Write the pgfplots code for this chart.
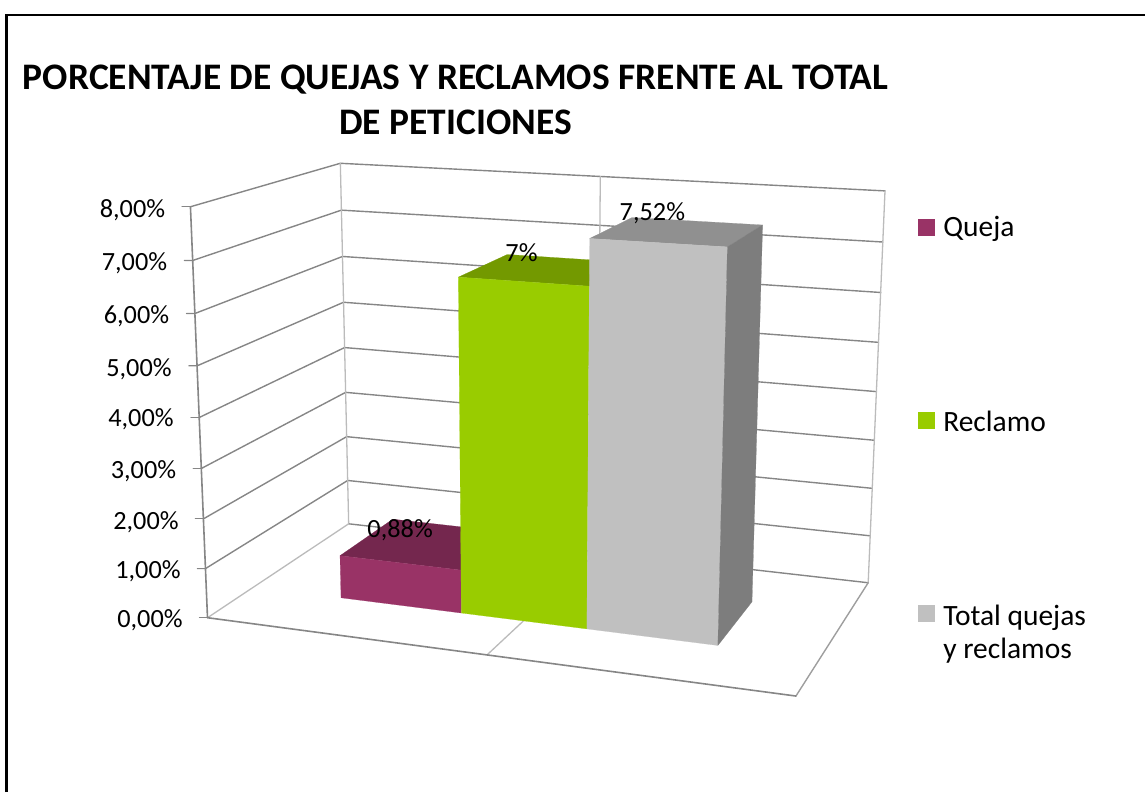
\documentclass[border=0pt]{standalone}
\usepackage{pgfplots}
\pgfplotsset{compat=1.18}
\usepackage{fontspec}
\setmainfont{Carlito}
% projection of the chart's box: u across, d into the depth, v = value in %
\newcommand\WW{(1-0.09516*\thisrow{u}+0.14592*\thisrow{d}-0.00625*\thisrow{v})}
\newcommand\PX{((207.7+513.19*\thisrow{u}+192.23*\thisrow{d}-3.325*\thisrow{v})/\WW)}
\newcommand\PY{((618.3+12.10*\thisrow{u}-17.49*\thisrow{d}-52.71*\thisrow{v})/\WW)}
\pgfkeys{/pgfplots/table/proj/.style={/pgfplots/table/x expr=\PX,/pgfplots/table/y expr=\PY,/pgfplots/table/row sep=\\}}
\definecolor{gridD}{HTML}{868686}
\definecolor{gridL}{HTML}{BBBBBB}
\definecolor{qF}{HTML}{993366}
\definecolor{qT}{HTML}{74274E}
\definecolor{rF}{HTML}{99CC00}
\definecolor{rT}{HTML}{739900}
\definecolor{tF}{HTML}{C0C0C0}
\definecolor{tT}{HTML}{909090}
\definecolor{tS}{HTML}{7D7D7D}
\newcommand\lab{\fontsize{29.5}{29.5}\selectfont}
\newcommand\num{\fontsize{26.3}{26.3}\selectfont}
\newcommand\ttl{\fontsize{37.5}{37.5}\bfseries\selectfont}
% #1 u left, #2 u right, #3 value, #4 top, #5 front
\newcommand\barfaces[5]{%
  \addplot[fill=#4,draw=#4,line width=0.2pt] table[proj]{u d v\\ #1 0.3 #3\\ #2 0.3 #3\\ #2 0.7 #3\\ #1 0.7 #3\\ #1 0.3 #3\\};
  \addplot[fill=#5,draw=#5,line width=0.2pt] table[proj]{u d v\\ #1 0.3 0\\ #2 0.3 0\\ #2 0.3 #3\\ #1 0.3 #3\\ #1 0.3 0\\};
}
\begin{document}
\begin{tikzpicture}
\begin{axis}[
  scale only axis,width=1146pt,height=793pt,
  xmin=0,xmax=1146,ymin=0,ymax=793,y dir=reverse,
  hide axis,clip=false,
  every axis plot/.append style={no markers,line cap=round,line join=round},
]
% frame
\addplot[black,line width=2.2pt,line cap=butt,line join=miter] coordinates {(6.5,793) (6.5,15) (1146,15)};
% gridlines at each value
\pgfplotsinvokeforeach{1,2,3,4,5,6,7,8}{
  \addplot[gridD,line width=1.4pt] table[proj]{u d v\\ 0 0 #1\\ 0 1 #1\\ 1 1 #1\\};
}
\addplot[gridD,line width=1.4pt] table[proj]{u d v\\ 0 1 0\\ 1 1 0\\};
% floor and verticals
\addplot[gridL,line width=1.3pt] table[proj]{u d v\\ 0 0 0\\ 0 1 0\\ 0 1 8\\};
\addplot[gridL,line width=1.3pt] table[proj]{u d v\\ 0.5 0 0\\ 0.5 1 0\\ 0.5 1 8\\};
\addplot[gridL,line width=1.3pt] table[proj]{u d v\\ 1 1 0\\ 1 1 8\\};
\addplot[gridD!80!white,line width=1.4pt] table[proj]{u d v\\ 1 1 0\\ 1 0 0\\};
\addplot[gridD,line width=1.6pt] table[proj]{u d v\\ 1 0 0\\ 0 0 0\\ 0 0 8\\};
\pgfplotsinvokeforeach{0,1,2,3,4,5,6,7,8}{
  \addplot[gridD,line width=1.2pt] table[proj]{u d v\\ 0 0 #1\\ -0.0125 -0.0082 #1\\};
}
% bars
\barfaces{0.16667}{0.38889}{0.88}{qT}{qF}
\barfaces{0.38889}{0.61111}{6.64}{rT}{rF}
\barfaces{0.61111}{0.83333}{7.52}{tT}{tF}
\addplot[fill=tS,draw=tS,line width=0.2pt] table[proj]{u d v\\ 0.83333 0.3 0\\ 0.83333 0.7 0\\ 0.83333 0.7 7.52\\ 0.83333 0.3 7.52\\ 0.83333 0.3 0\\};
% legend swatches
\addplot[fill=qF,draw=none] coordinates {(919,219) (936,219) (936,236) (919,236)};
\addplot[fill=rF,draw=none] coordinates {(919,412) (936,412) (936,429) (919,429)};
\addplot[fill=tF,draw=none] coordinates {(919,606) (936,606) (936,623) (919,623)};
% text
\node[font=\ttl,anchor=center] at (axis cs:456,79.5) {PORCENTAJE DE QUEJAS Y RECLAMOS FRENTE AL TOTAL};
\node[font=\ttl,anchor=center] at (axis cs:456,122) {DE PETICIONES};
\node[font=\num,anchor=east,inner sep=0pt] at (axis cs:165.5,210.5) {8,00\%};
\node[font=\num,anchor=east,inner sep=0pt] at (axis cs:167.5,263.5) {7,00\%};
\node[font=\num,anchor=east,inner sep=0pt] at (axis cs:169.5,316.5) {6,00\%};
\node[font=\num,anchor=east,inner sep=0pt] at (axis cs:172,369.5) {5,00\%};
\node[font=\num,anchor=east,inner sep=0pt] at (axis cs:174,420) {4,00\%};
\node[font=\num,anchor=east,inner sep=0pt] at (axis cs:176.5,471.5) {3,00\%};
\node[font=\num,anchor=east,inner sep=0pt] at (axis cs:179,522.5) {2,00\%};
\node[font=\num,anchor=east,inner sep=0pt] at (axis cs:181,571.5) {1,00\%};
\node[font=\num,anchor=east,inner sep=0pt] at (axis cs:183,621) {0,00\%};
\node[font=\num,inner sep=0pt] at (axis cs:400.5,530.8) {0,88\%};
\node[font=\num,inner sep=0pt] at (axis cs:522,252.5) {7\%};
\node[font=\num,inner sep=0pt] at (axis cs:653,213.8) {7,52\%};
\node[font=\lab,anchor=west,inner sep=0pt] at (axis cs:944,229.5) {Queja};
\node[font=\lab,anchor=west,inner sep=0pt] at (axis cs:944,421.5) {Reclamo};
\node[font=\lab,anchor=west,inner sep=0pt] at (axis cs:944,618) {Total quejas};
\node[font=\lab,anchor=west,inner sep=0pt] at (axis cs:944,651) {y reclamos};
\path (axis cs:0,0) rectangle (axis cs:1146,793);
\end{axis}
\useasboundingbox (current axis.south west) rectangle (current axis.north east);
\end{tikzpicture}
\end{document}
